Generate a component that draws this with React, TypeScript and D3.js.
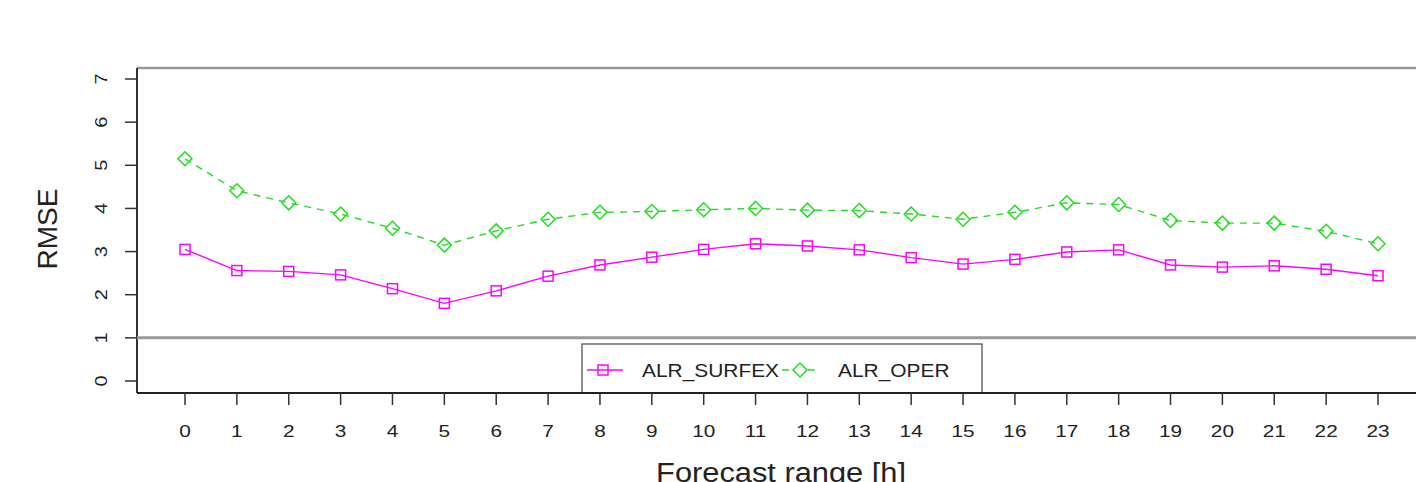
import React from "react";
import * as d3 from "d3";

const hours = d3.range(0, 24);
const surfex = [3.05, 2.56, 2.54, 2.46, 2.14, 1.8, 2.09, 2.43, 2.69, 2.87, 3.05, 3.18, 3.13, 3.04, 2.86, 2.71, 2.82, 2.99, 3.04, 2.69, 2.64, 2.67, 2.59, 2.44];
const oper = [5.15, 4.41, 4.13, 3.87, 3.54, 3.15, 3.48, 3.75, 3.91, 3.93, 3.97, 4.0, 3.96, 3.95, 3.87, 3.75, 3.91, 4.13, 4.09, 3.72, 3.66, 3.66, 3.47, 3.18];
const yTicks = [0, 1, 2, 3, 4, 5, 6, 7];
const refLine = 1;
const seriesNames = ["ALR_SURFEX", "ALR_OPER"];

const MAGENTA = "#ff00ff";
const GREEN = "#22dd22";
const FONT = "'Liberation Sans', Arial, sans-serif";

export default function App() {
  const W = 1416, H = 482;
  const left = 137, top = 68, bottom = 393;
  const x = d3.scaleLinear().domain([0, 23]).range([185, 1378]);
  const y = d3.scaleLinear().domain([0, 7]).range([381, 79]);
  const line = d3.line<number>().x((_, i) => x(hours[i])).y((d) => y(d));

  const sq = 10;
  const dm = 7;
  const diamond = (cx: number, cy: number) =>
    `M${cx},${cy - dm}L${cx + dm},${cy}L${cx},${cy + dm}L${cx - dm},${cy}Z`;

  return (
    <svg width={W} height={H} style={{ position: "absolute", left: 0, top: 0, background: "#fff" }}>
      <rect x={0} y={0} width={W} height={H} fill="#fff" />
      {/* frame */}
      <line x1={left} x2={W} y1={top} y2={top} stroke="#999" strokeWidth={2.5} />
      <line x1={left} x2={left} y1={top} y2={bottom} stroke="#333" strokeWidth={2} />
      <line x1={left} x2={W} y1={y(refLine)} y2={y(refLine)} stroke="#999" strokeWidth={3} />

      {/* y axis */}
      {yTicks.map((t) => (
        <g key={"y" + t}>
          <line x1={left - 12} x2={left} y1={y(t)} y2={y(t)} stroke="#333" strokeWidth={1.5} />
          <text
            transform={`translate(${107},${y(t)}) rotate(-90) scale(1.25,1)`}
            textAnchor="middle"
            fontFamily={FONT}
            fontSize={16}
            fill="#222"
          >
            {t}
          </text>
        </g>
      ))}
      <text
        transform={`translate(57,229) rotate(-90)`}
        textAnchor="middle"
        fontFamily={FONT}
        fontSize={28}
        fill="#222"
      >
        RMSE
      </text>

      {/* series */}
      <path d={line(oper) || ""} fill="none" stroke={GREEN} strokeWidth={1.4} strokeDasharray="7,6" />
      {oper.map((v, i) => (
        <path key={"o" + i} d={diamond(x(hours[i]), y(v))} fill="none" stroke={GREEN} strokeWidth={1.5} />
      ))}
      <path d={line(surfex) || ""} fill="none" stroke={MAGENTA} strokeWidth={1.4} />
      {surfex.map((v, i) => (
        <rect key={"s" + i} x={x(hours[i]) - sq / 2} y={y(v) - sq / 2} width={sq} height={sq} fill="none" stroke={MAGENTA} strokeWidth={1.5} />
      ))}

      {/* legend */}
      <rect x={582} y={344} width={400} height={49} fill="#fff" stroke="#444" strokeWidth={1.2} />
      <line x1={587} x2={623} y1={370} y2={370} stroke={MAGENTA} strokeWidth={1.4} />
      <rect x={603 - sq / 2} y={370 - sq / 2} width={sq} height={sq} fill="none" stroke={MAGENTA} strokeWidth={1.5} />
      <text transform="translate(642,377) scale(1.1,1)" fontFamily={FONT} fontSize={19} fill="#222">{seriesNames[0]}</text>
      <line x1={782} x2={818} y1={370} y2={370} stroke={GREEN} strokeWidth={1.4} strokeDasharray="7,6" />
      <path d={diamond(800, 370)} fill="#fff" stroke={GREEN} strokeWidth={1.5} />
      <text transform="translate(838,377) scale(1.1,1)" fontFamily={FONT} fontSize={19} fill="#222">{seriesNames[1]}</text>

      {/* x axis */}
      <line x1={left} x2={W} y1={bottom} y2={bottom} stroke="#222" strokeWidth={2} />
      {hours.map((h) => (
        <g key={"x" + h}>
          <line x1={x(h)} x2={x(h)} y1={bottom} y2={bottom + 12} stroke="#333" strokeWidth={1.5} />
          <text transform={`translate(${x(h)},437) scale(1.3,1)`} textAnchor="middle" fontFamily={FONT} fontSize={16} fill="#222">
            {h}
          </text>
        </g>
      ))}
      <text transform="translate(781,482) scale(1.1,1)" textAnchor="middle" fontFamily={FONT} fontSize={28} fill="#222">
        Forecast range [h]
      </text>
    </svg>
  );
}
